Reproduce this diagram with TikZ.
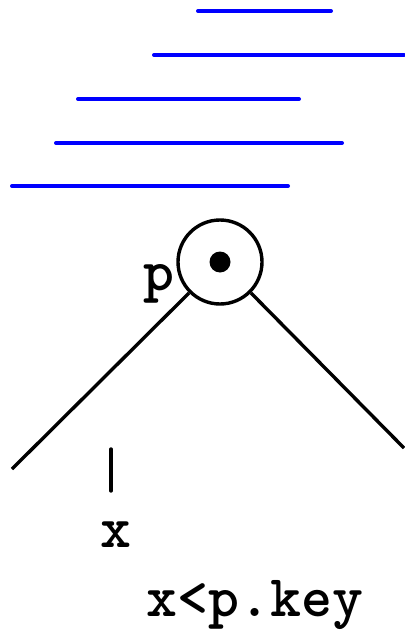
\documentclass[tikz,border=0pt]{standalone}
\begin{document}
\begin{tikzpicture}[x=1pt,y=-1pt,
  blueline/.style={blue,line width=4pt,line cap=round},
  edge/.style={black,line width=3.4pt},
  lbl/.style={font=\fontsize{59}{62}\selectfont\ttfamily\bfseries,inner sep=0pt}]
\useasboundingbox (0,0) rectangle (404,631);
\draw[blueline] (198,11) -- (331,11);
\draw[blueline] (154,55) -- (404,55);
\draw[blueline] (78,99) -- (299,99);
\draw[blueline] (56,143) -- (342,143);
\draw[blueline] (12,186) -- (288,186);
\node[draw,line width=3.4pt,circle,minimum size=84pt,inner sep=0pt] (p) at (220,262) {};
\fill (p.center) circle (10.5);
\node[lbl] (plbl) at (159,284) {p};
\coordinate (l) at (12,469);
\coordinate (r) at (404,448);
\draw[edge] (p.225) -- (l);
\draw[edge] (p.315) -- (r);
\coordinate (t1) at (111,449);
\coordinate (t2) at (111,491);
\draw[edge,line cap=round] (t1) -- (t2);
\node[lbl] (x) at (116,535) {x};
\node[lbl,anchor=base] (cond) at (255,616) {x<p.key};
\end{tikzpicture}
\end{document}
